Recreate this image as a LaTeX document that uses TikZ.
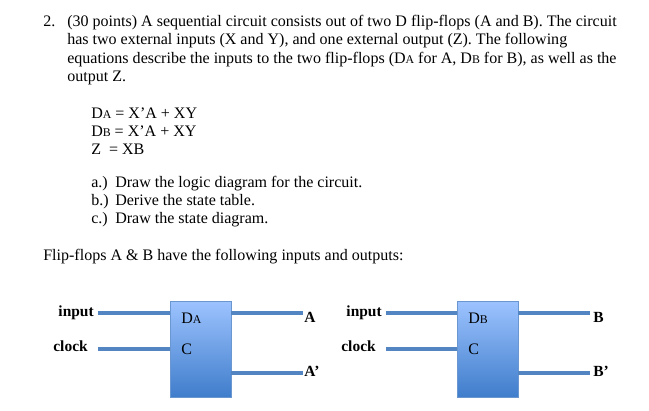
\documentclass[tikz,border=0pt]{standalone}
\usepackage{fontspec}
\setmainfont{Liberation Serif}
\usepackage{tikz}
\definecolor{wireblue}{HTML}{5285C2}
\definecolor{boxedge}{HTML}{6A97D0}
\definecolor{boxtop}{HTML}{9DC3FF}
\definecolor{boxbot}{HTML}{3F7DCB}
\newcommand{\smallsub}[1]{{\fontsize{8.4}{10}\selectfont #1}}
\tikzset{
    line/.style={anchor=base west,inner sep=0pt,font=\fontsize{11.4}{13}\selectfont},
    pin/.style={anchor=base east,inner sep=0pt,font=\fontsize{11}{13}\selectfont\bfseries},
    outpin/.style={anchor=base west,inner sep=0pt,font=\fontsize{11}{13}\selectfont\bfseries},
    wire/.style={draw=wireblue,line width=2.4pt},
    dff/.style={draw=boxedge,line width=0.6pt,top color=boxtop,bottom color=boxbot,minimum width=61*0.025cm,minimum height=96*0.025cm,inner sep=0pt}
}
\begin{document}
\begin{tikzpicture}[x=0.025cm,y=-0.025cm]
    \useasboundingbox[fill=white] (0,0) rectangle (649,410);

    \node[line] (num) at (43,26) {2.};
    \node[line] (l1) at (67,26) {(30 points) A sequential circuit consists out of two D flip-flops (A and B). The circuit};
    \node[line] (l2) at (67,44) {has two external inputs (X and Y), and one external output (Z). The following};
    \node[line] (l3) at (67,63) {equations describe the inputs to the two flip-flops (D\smallsub{A} for A, D\smallsub{B} for B), as well as the};
    \node[line] (l4) at (67,81) {output Z.};

    \node[line] (eqa) at (91,118) {D\smallsub{A} = X’A + XY};
    \node[line] (eqb) at (91,136) {D\smallsub{B} = X’A + XY};
    \node[line] (eqz) at (91,154) {Z\ \ = XB};

    \node[line] (parta) at (91,187) {a.)};
    \node[line] (partb) at (91,205) {b.)};
    \node[line] (partc) at (91,223) {c.)};
    \node[line] (ta) at (115,187) {Draw the logic diagram for the circuit.};
    \node[line] (tb) at (115,205) {Derive the state table.};
    \node[line] (tc) at (115,223) {Draw the state diagram.};

    \node[line] (intro) at (43,260) {Flip-flops A \& B have the following inputs and outputs:};

    % flip-flop A
    \fill[black!30] (171,302) rectangle (232,398);
    \node[dff] (ffa) at (200.5,349) {};
    \node[line] at (181,323) {D\smallsub{A}};
    \node[line] at (181,354) {C};
    \coordinate (ainput) at (98,313);
    \coordinate (aclock) at (98,349);
    \coordinate (aout) at (303,313);
    \coordinate (anot) at (303,373);
    \draw[wire] (ainput) -- (ainput -| ffa.west);
    \draw[wire] (aclock) -- (aclock -| ffa.west);
    \draw[wire] (aout -| ffa.east) -- (aout);
    \draw[wire] (anot -| ffa.east) -- (anot);
    \node[pin] at (94,316) {input};
    \node[pin] at (88,351) {clock};
    \node[outpin] at (304,322) {A};
    \node[outpin] at (304,376) {A’};

    % flip-flop B
    \fill[black!30] (458,302) rectangle (519,398);
    \node[dff] (ffb) at (487.5,349) {};
    \node[line] at (468,323) {D\smallsub{B}};
    \node[line] at (468,354) {C};
    \coordinate (binput) at (386,313);
    \coordinate (bclock) at (386,349);
    \coordinate (bout) at (590,313);
    \coordinate (bnot) at (590,373);
    \draw[wire] (binput) -- (binput -| ffb.west);
    \draw[wire] (bclock) -- (bclock -| ffb.west);
    \draw[wire] (bout -| ffb.east) -- (bout);
    \draw[wire] (bnot -| ffb.east) -- (bnot);
    \node[pin] at (382,316) {input};
    \node[pin] at (376,351) {clock};
    \node[outpin] at (593,322) {B};
    \node[outpin] at (593,376) {B’};
\end{tikzpicture}
\end{document}
